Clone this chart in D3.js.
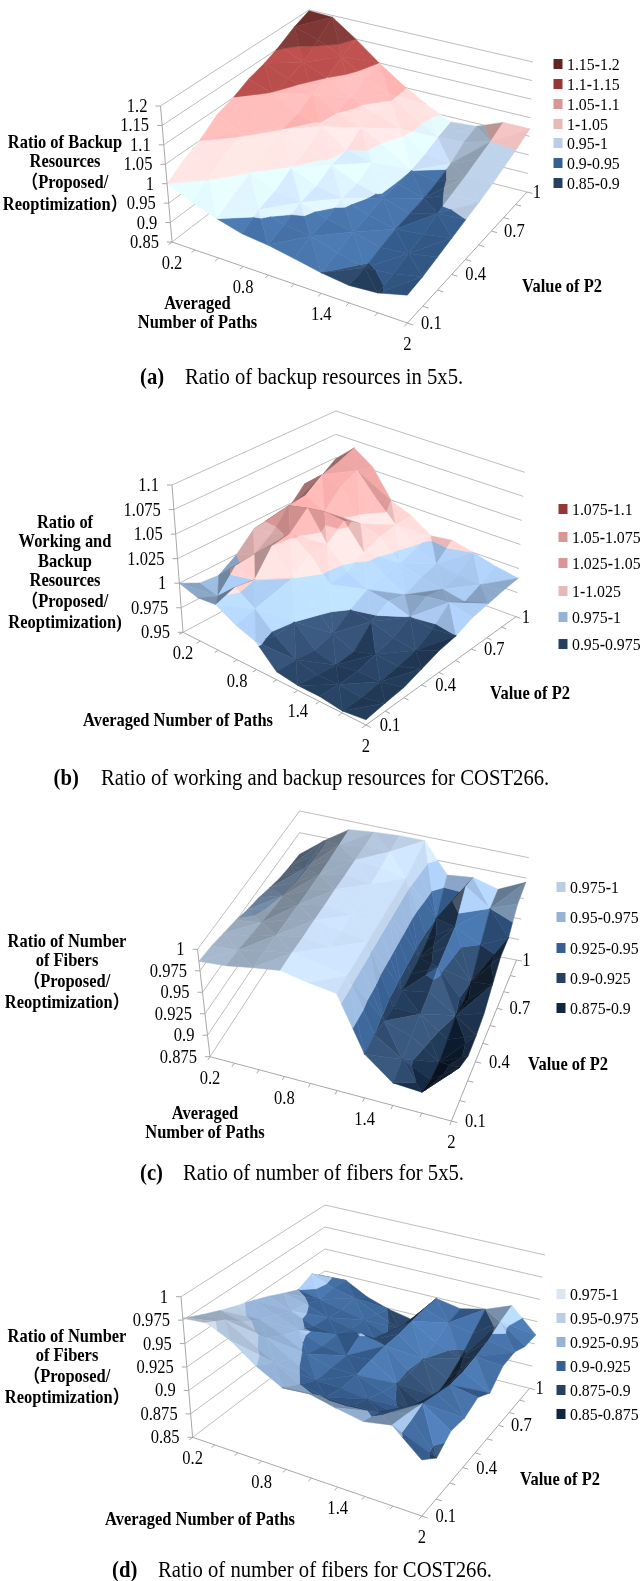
<!DOCTYPE html>
<html><head><meta charset="utf-8">
<script src="https://cdn.jsdelivr.net/npm/d3@7"></script>
<style>html,body{margin:0;padding:0;background:#fff}svg{display:block;filter:blur(0.35px)}
text{font-family:"Liberation Serif","Noto Sans CJK SC",serif;fill:#000}</style></head>
<body><script>
const xCats=[0.2,0.4,0.6,0.8,1.0,1.2,1.4,1.6,1.8,2.0];
const yCats=[0.1,0.2,0.3,0.4,0.5,0.6,0.7,0.8,0.9,1.0];
const xTickLabels=["0.2","0.8","1.4","2"];
const yTickLabels=["0.1","0.4","0.7","1"];

const valuesA=[
[1.00,.972,.95,.932,.925,.913,.90,.892,.897,.915],
[1.03,1.005,.975,.958,.94,.932,.912,.897,.905,.92],
[1.052,1.03,1.00,.972,.962,.94,.928,.91,.917,.93],
[1.085,1.055,1.025,.998,.97,.958,.935,.92,.928,.94],
[1.10,1.075,1.05,1.015,.992,.962,.945,.925,.945,.95],
[1.122,1.098,1.06,1.045,1.0,.985,.948,.93,.958,.96],
[1.135,1.11,1.085,1.05,1.028,.992,.95,.94,.97,.972],
[1.155,1.125,1.10,1.062,1.035,1.012,.96,.955,.985,.987],
[1.18,1.16,1.13,1.085,1.058,1.012,.975,.98,1.0,1.002],
[1.198,1.195,1.15,1.10,1.056,1.018,.987,.992,1.02,1.02]];
const valuesB=[
[1.00,.994,.996,.985,.978,.958,.955,.955,.952,.955],
[.99,.985,1.003,.990,.972,.958,.953,.954,.952,.958],
[.988,1.006,1.00,.995,.975,.956,.951,.955,.955,.960],
[1.0,1.008,1.025,1.0,.983,.962,.953,.960,.958,.966],
[1.017,1.02,1.028,1.015,.992,.975,.972,.965,.962,.972],
[1.012,1.04,1.045,1.015,.995,.985,.982,.975,.972,.975],
[1.02,1.042,1.032,1.03,1.005,.99,.978,.985,.988,.982],
[1.038,1.055,1.05,1.018,1.012,.992,.985,.982,.978,.985],
[1.037,1.06,1.058,1.035,1.015,.998,.99,.987,.985,.988],
[1.049,1.067,1.053,1.024,1.016,1.002,1.005,1.0,.994,.99]];
const valuesC=[
[.986,.988,.993,.997,.99,.985,.924,.900,.898,.927],
[.984,.986,.992,.997,.991,.985,.925,.905,.890,.912],
[.980,.983,.991,.996,.991,.985,.920,.910,.888,.903],
[.976,.980,.990,.996,.990,.985,.915,.915,.893,.905],
[.970,.977,.989,.995,.990,.985,.915,.920,.900,.910],
[.966,.975,.988,.995,.990,.985,.915,.930,.895,.923],
[.960,.973,.988,.994,.990,.985,.915,.935,.900,.937],
[.955,.972,.988,.994,.991,.985,.918,.940,.925,.940],
[.952,.971,.989,.993,.993,.990,.925,.970,.950,.962],
[.950,.971,.990,.993,.995,.995,.960,.963,.955,.970]];
const valuesD=[
[.977,.98,.969,.95,.936,.939,.933,.928,.934,.908],
[.968,.97,.955,.94,.925,.92,.92,.922,.93,.893],
[.96,.955,.945,.93,.915,.915,.912,.905,.925,.905],
[.953,.945,.935,.922,.915,.915,.905,.895,.92,.903],
[.947,.938,.928,.918,.915,.918,.90,.885,.915,.91],
[.94,.93,.92,.918,.926,.92,.898,.88,.915,.90],
[.932,.926,.918,.912,.908,.92,.90,.885,.918,.915],
[.925,.92,.915,.91,.90,.922,.905,.895,.922,.917],
[.932,.922,.917,.905,.895,.924,.915,.91,.93,.91],
[.919,.92,.907,.899,.894,.924,.919,.925,.936,.91]];

const zTicksA=[.85,.9,.95,1,1.05,1.1,1.15,1.2];
const zLabelsA=["0.85","0.9","0.95","1","1.05","1.1","1.15","1.2"];
const colorsA=["#254061","#376092","#b9cde5","#e6b9b8","#d99694","#953735","#632523"];
const legendA=["1.15-1.2","1.1-1.15","1.05-1.1","1-1.05","0.95-1","0.9-0.95","0.85-0.9"];
const zTicksB=[.95,.975,1,1.025,1.05,1.075,1.1];
const zLabelsB=["0.95","0.975","1","1.025","1.05","1.075","1.1"];
const colorsB=["#254061","#95b3d7","#e6b9b8","#d99694","#d99694","#953735"];
const legendB=["1.075-1.1","1.05-1.075","1.025-1.05","1-1.025","0.975-1","0.95-0.975"];
const zTicksC=[.875,.9,.925,.95,.975,1];
const zLabelsC=["0.875","0.9","0.925","0.95","0.975","1"];
const colorsC=["#10253f","#254061","#376092","#95b3d7","#b9cde5"];
const legendC=["0.975-1","0.95-0.975","0.925-0.95","0.9-0.925","0.875-0.9"];
const zTicksD=[.85,.875,.9,.925,.95,.975,1];
const zLabelsD=["0.85","0.875","0.9","0.925","0.95","0.975","1"];
const colorsD=["#10253f","#254061","#376092","#95b3d7","#b9cde5","#dce6f2"];
const legendD=["0.975-1","0.95-0.975","0.925-0.95","0.9-0.925","0.875-0.9","0.85-0.875"];

const panels=[
{vals:valuesA,zt:zTicksA,zl:zLabelsA,col:colorsA,leg:legendA,
 floor:[[172,242],[407.4,323],[527,192],[309,137]],top:[[160.5,106],[406.6,173],[533,62],[309,10]],
 legX:558,legY:[64,84,104,124,143,163,183],txtX:567,
 title:["Ratio of Backup","Resources","（Proposed/","Reoptimization）"],titleX:65,titleY:[142,161,182,204],
 xTitle:["Averaged","Number of Paths"],xTitleX:197.5,xTitleY:[303,322],p2:[562,286],
 capB:"(a)",capBX:140,cap:"Ratio of backup resources in 5x5.",capX:185,capY:377},
{vals:valuesB,zt:zTicksB,zl:zLabelsB,col:colorsB,leg:legendB,
 floor:[[183,632.3],[366,725],[516,616.7],[336,551]],top:[[172,485],[366,570],[524.7,472.3],[335.8,411]],
 legX:563,legY:[509,537,563,591,617,644],txtX:572,
 title:["Ratio of","Working and","Backup","Resources","（Proposed/","Reoptimization)"],titleX:65,titleY:[522,541,561,580,601,622],
 xTitle:["Averaged Number of Paths"],xTitleX:178,xTitleY:[720],p2:[530,693],
 capB:"(b)",capBX:53.5,cap:"Ratio of working and backup resources for COST266.",capX:101,capY:778},
{vals:valuesC,zt:zTicksC,zl:zLabelsC,col:colorsC,leg:legendC,
 floor:[[210,1056.7],[451.4,1121],[516.5,960],[299.6,919.3]],top:[[197.5,949.3],[451,1006],[528.8,857.7],[299.6,811]],
 legX:561,legY:[887,917,948,978,1008],txtX:570,
 title:["Ratio of Number","of Fibers","（Proposed/","Reoptimization）"],titleX:67,titleY:[941,960,981,1002],
 xTitle:["Averaged","Number of Paths"],xTitleX:205,xTitleY:[1113,1132],p2:[568,1064],
 capB:"(c)",capBX:140,cap:"Ratio of number of fibers for 5x5.",capX:183,capY:1173},
{vals:valuesD,zt:zTicksD,zl:zLabelsD,col:colorsD,leg:legendD,
 floor:[[192.6,1437.3],[421.8,1516],[529.6,1388.3],[325,1337]],top:[[181,1296.7],[421.8,1371],[545,1255],[325,1205]],
 legX:561,legY:[1294,1318,1342,1366,1390,1414],txtX:570,
 title:["Ratio of Number","of Fibers","（Proposed/","Reoptimization）"],titleX:67,titleY:[1336,1355,1376,1397],
 xTitle:["Averaged Number of Paths"],xTitleX:200,xTitleY:[1519],p2:[560,1479],
 capB:"(d)",capBX:112,cap:"Ratio of number of fibers for COST266.",capX:158,capY:1570}
];

const svg=d3.select("body").append("svg").attr("width",643).attr("height",1581);
const uScale=d3.scaleLinear().domain([0.2,2]).range([0,1]);
const vScale=d3.scaleLinear().domain([0.1,1]).range([0,1]);

function homography(q){
  const [[x0,y0],[x1,y1],[x2,y2],[x3,y3]]=q;
  const dx1=x1-x2,dx2=x3-x2,sx=x0-x1+x2-x3,dy1=y1-y2,dy2=y3-y2,sy=y0-y1+y2-y3;
  const det=dx1*dy2-dx2*dy1,g=(sx*dy2-dx2*sy)/det,h=(dx1*sy-sx*dy1)/det;
  const a=x1-x0+g*x1,b=x3-x0+h*x3,d=y1-y0+g*y1,e=y3-y0+h*y3;
  return (u,v)=>{const w=g*u+h*v+1;return [(a*u+b*v+x0)/w,(d*u+e*v+y0)/w];};
}
const lineGen=d3.line();
const LIGHT=[0.6,-0.38,0.7];
const SX=0.9;

function clipBand(poly,lo,hi){
  const clip=(pts,keep,t)=>{const out=[];
    for(let i=0;i<pts.length;i++){const a=pts[i],b=pts[(i+1)%pts.length];
      const ka=keep(a[2]),kb=keep(b[2]);
      if(ka)out.push(a);
      if(ka!==kb){const s=(t-a[2])/(b[2]-a[2]);out.push([a[0]+s*(b[0]-a[0]),a[1]+s*(b[1]-a[1]),t]);}
    }return out;};
  let r=clip(poly,z=>z>=lo,lo);
  if(r.length)r=clip(r,z=>z<=hi,hi);
  return r;
}

panels.forEach(p=>{
  const g=svg.append("g");
  const zScale=d3.scaleLinear().domain(d3.extent(p.zt)).range([0,1]);
  const hF=homography(p.floor),hT=homography(p.top);
  const proj=(u,v,w)=>{const a=hF(u,v),b=hT(u,v);return [a[0]+(b[0]-a[0])*w,a[1]+(b[1]-a[1])*w];};
  const label=(x,y,s,size,anchor,weight)=>{
    return g.append("text").attr("transform",`translate(${x},${y}) scale(${SX},1)`)
      .attr("text-anchor",anchor||"start").attr("font-size",size).attr("font-weight",weight||"normal").text(s);};

  p.zt.forEach(t=>{const w=zScale(t);
    g.append("path").attr("d",lineGen([proj(0,0,w),proj(0,1,w),proj(1,1,w)]))
     .attr("fill","none").attr("stroke","#bdbdbd").attr("stroke-width",1);});

  const tris=[];
  const cell=(i,j)=>[uScale(xCats[i]),vScale(yCats[j]),zScale(p.vals[j][i])];
  for(let j=0;j<9;j++)for(let i=0;i<9;i++){
    const A=cell(i,j),B=cell(i+1,j),C=cell(i+1,j+1),D=cell(i,j+1);
    if((i+j)%2===0){tris.push([A,B,C],[A,C,D]);}else{tris.push([A,B,D],[B,C,D]);}
  }
  tris.forEach(t=>{t.key=d3.mean(t,q=>q[0]-q[1]);});
  tris.sort((a,b)=>a.key-b.key);
  const H=0.72;
  tris.forEach(t=>{
    const [a,b,c]=t;
    const e1=[b[0]-a[0],b[1]-a[1],(b[2]-a[2])*H],e2=[c[0]-a[0],c[1]-a[1],(c[2]-a[2])*H];
    let n=[e1[1]*e2[2]-e1[2]*e2[1],e1[2]*e2[0]-e1[0]*e2[2],e1[0]*e2[1]-e1[1]*e2[0]];
    if(n[2]<0)n=n.map(x=>-x);
    const len=Math.hypot(...n);n=n.map(x=>x/len);
    const s=n[0]*LIGHT[0]+n[1]*LIGHT[1]+n[2]*LIGHT[2];
    const f=0.5+0.68*s, spec=60*Math.max(0,s-0.7);
    p.col.forEach((col,k)=>{
      const lo=k===0?-9:zScale(p.zt[k]),hi=k===p.col.length-1?9:zScale(p.zt[k+1]);
      const piece=clipBand(t,lo,hi);
      if(piece.length<3)return;
      const base=d3.rgb(col);
      const fill=d3.rgb(Math.min(255,base.r*f+spec),Math.min(255,base.g*f+spec),Math.min(255,base.b*f+spec)).formatHex();
      g.append("path").attr("d",lineGen(piece.map(q=>proj(q[0],q[1],q[2])))+"Z")
       .attr("fill",fill).attr("stroke",fill).attr("stroke-width",0.5).attr("stroke-linejoin","round");
    });
  });

  const axisStyle=s=>s.attr("fill","none").attr("stroke","#a8a8a8").attr("stroke-width",1);
  axisStyle(g.append("path").attr("d",lineGen([proj(0,0,1),proj(0,0,0),proj(1,0,0),proj(1,1,0)])));
  xCats.forEach(c=>{const u=uScale(c);axisStyle(g.append("path").attr("d",lineGen([proj(u,0,0),proj(u,-0.022,0)])));});
  yCats.forEach(c=>{const v=vScale(c);axisStyle(g.append("path").attr("d",lineGen([proj(1,v,0),proj(1.022,v,0)])));});
  p.zt.forEach(t=>{const q=proj(0,0,zScale(t));axisStyle(g.append("path").attr("d",lineGen([q,[q[0]-5,q[1]]])));});

  p.zl.forEach((l,i)=>{const q=proj(0,0,zScale(p.zt[i]));
    label(q[0]-13,q[1]+6,l,18.4,"end");});
  xTickLabels.forEach(l=>{const q=proj(uScale(+l),0,0);
    label(q[0],q[1]+27,l,18.4,"middle");});
  yTickLabels.forEach((l,i)=>{const q=proj(1,vScale(+l),0);
    label(q[0]+[24,24,23,10][i],q[1]+6,l,18.4,"middle");});

  p.leg.forEach((l,i)=>{const y=p.legY[i],col=p.col[p.col.length-1-i];
    g.append("rect").attr("x",p.legX-4.5).attr("y",y-5).attr("width",9).attr("height",10).attr("fill",col);
    const t=label(p.txtX,y+6,"",17.6);
    const parts=l.split("-");
    t.append("tspan").text(parts[0]);
    t.append("tspan").attr("font-weight","bold").text("-");
    t.append("tspan").text(parts[1]);});

  const bold=(x,y,s)=>label(x,y+6,s,18.3,"middle","bold");
  p.title.forEach((s,i)=>bold(p.titleX,p.titleY[i],s));
  p.xTitle.forEach((s,i)=>bold(p.xTitleX,p.xTitleY[i],s));
  bold(p.p2[0],p.p2[1],"Value of P2");
  label(p.capBX,p.capY+7,p.capB,23,"start","bold");
  label(p.capX,p.capY+7,p.cap,23);
});
</script></body></html>
